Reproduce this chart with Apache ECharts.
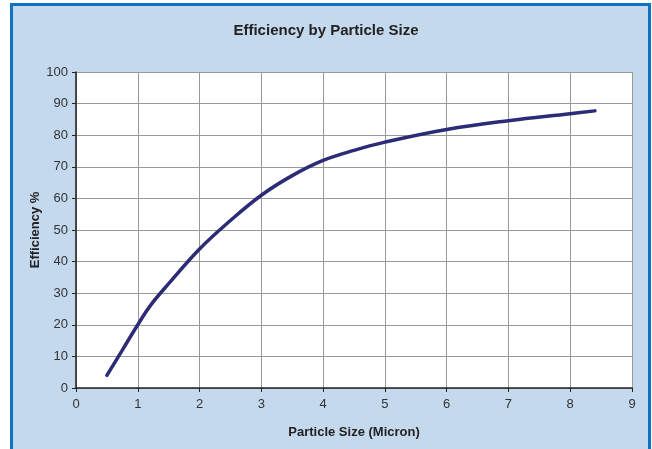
<!DOCTYPE html>
<html><head><meta charset="utf-8">
<script src="https://cdn.jsdelivr.net/npm/echarts@6/dist/echarts.min.js"></script>
<style>html,body{margin:0;padding:0;background:#fff;}#c{width:652px;height:449px;}</style>
</head><body><div id="c"></div>
<script>
var sizes = [0.5, 0.75, 1.0, 1.2, 1.5, 2.0, 2.5, 3.0, 3.5, 4.0, 4.5, 5.0, 6.0, 7.0, 8.0, 8.4];
var efficiency = [4, 12, 20, 26, 33, 44, 53, 61, 67.2, 72, 75.2, 77.8, 81.8, 84.6, 86.8, 87.7];
var title = 'Efficiency by Particle Size';
var xName = 'Particle Size (Micron)';
var yName = 'Efficiency %';

var chart = echarts.init(document.getElementById('c'));
var fnt = 'Liberation Sans, Arial, sans-serif';
chart.setOption({
  backgroundColor: '#ffffff',
  animation: false,
  graphic: [{
    type: 'rect', z: -10, silent: true,
    shape: {x: 11.5, y: 4.5, width: 638, height: 460},
    style: {fill: '#c5d9ee', stroke: '#0f72c2', lineWidth: 3}
  }, {
    type: 'text', silent: true, x: 35, y: 230, rotation: Math.PI / 2,
    style: {text: yName, fontFamily: fnt, fontSize: 13, fontWeight: 'bold', fill: '#222',
            align: 'center', verticalAlign: 'middle'}
  }],
  title: {
    text: title, left: 'center', top: 18,
    textStyle: {fontFamily: fnt, fontSize: 15, fontWeight: 'bold', color: '#222'}
  },
  grid: {left: 76, right: 20, top: 72, bottom: 61, containLabel: false,
         show: true, backgroundColor: '#ffffff', borderWidth: 0},
  xAxis: {
    type: 'value', min: 0, max: 9, interval: 1,
    name: xName, nameLocation: 'middle', nameGap: 38,
    nameTextStyle: {fontFamily: fnt, fontSize: 13, fontWeight: 'bold', color: '#222'},
    axisLine: {show: true, lineStyle: {color: '#222', width: 1.5}},
    axisTick: {show: true, length: 4, lineStyle: {color: '#222'}},
    axisLabel: {fontFamily: fnt, fontSize: 13, color: '#333', margin: 10},
    splitLine: {show: true, lineStyle: {color: '#999', width: 1}}
  },
  yAxis: {
    type: 'value', min: 0, max: 100, interval: 10,
    axisLine: {show: true, lineStyle: {color: '#222', width: 1.5}},
    axisTick: {show: true, length: 4, lineStyle: {color: '#222'}},
    axisLabel: {fontFamily: fnt, fontSize: 13, color: '#333', margin: 8},
    splitLine: {show: true, lineStyle: {color: '#999', width: 1}}
  },
  series: [{
    type: 'line', smooth: 0.4, showSymbol: false,
    data: sizes.map(function (s, i) { return [s, efficiency[i]]; }),
    lineStyle: {color: '#2b2b78', width: 3.5, cap: 'round'}
  }]
});
</script></body></html>
